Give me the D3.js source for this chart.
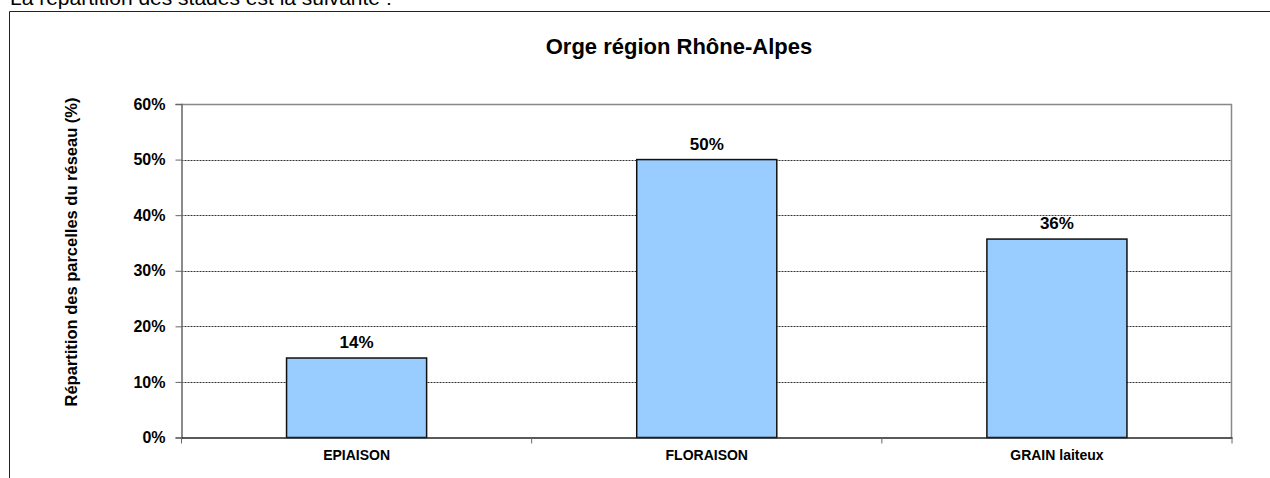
<!DOCTYPE html>
<html>
<head>
<meta charset="utf-8">
<script src="https://cdn.jsdelivr.net/npm/d3@7"></script>
<style>
  body { margin: 0; background: #fff; }
  text { font-family: Arial, "Liberation Sans", sans-serif; fill: #000; }
</style>
</head>
<body>
<div id="chart"></div>
<script>
// data
const stades = ["EPIAISON", "FLORAISON", "GRAIN laiteux"];
const parts = [14.3, 50, 35.7];
const labels = ["14%", "50%", "36%"];
const yTicks = [0, 10, 20, 30, 40, 50, 60];

const W = 1270, H = 478;
const margin = { top: 104, right: 38, bottom: 40.5, left: 181.5 };
const width = W - margin.left - margin.right;
const height = H - margin.top - margin.bottom;

const svg = d3.select("#chart").append("svg")
  .attr("width", W)
  .attr("height", H);

// sentence above the chart (cut by the crop)
svg.append("text")
  .attr("x", 10)
  .attr("y", 5)
  .style("font-size", "21px")
  .text("La répartition des stades est la suivante :");

// outer chart frame
svg.append("path")
  .attr("d", "M9.5," + H + "V11.5H" + W)
  .attr("fill", "none")
  .attr("stroke", "#222")
  .attr("stroke-width", 1);

svg.append("text")
  .attr("x", 679)
  .attr("y", 54)
  .attr("text-anchor", "middle")
  .style("font-size", "22px")
  .style("font-weight", "bold")
  .text("Orge région Rhône-Alpes");

const g = svg.append("g")
  .attr("transform", "translate(" + margin.left + "," + margin.top + ")");

const x = d3.scaleBand()
  .domain(stades)
  .range([0, width])
  .paddingInner(0.6)
  .paddingOuter(0.3);

const y = d3.scaleLinear()
  .domain([0, 60])
  .range([height, 0]);

// dashed gridlines
g.selectAll(".grid")
  .data(yTicks.filter(d => d > 0 && d < 60))
  .enter()
  .append("line")
  .attr("x1", 0)
  .attr("x2", width)
  .attr("y1", d => Math.round(y(d)) + 0.5)
  .attr("y2", d => Math.round(y(d)) + 0.5)
  .attr("stroke", "#333")
  .attr("stroke-dasharray", "2,1");

// plot border top + right
g.append("path")
  .attr("d", "M0,0.5H" + (width - 0.5) + "V" + height)
  .attr("fill", "none")
  .attr("stroke", "#888")
  .attr("stroke-width", 1.5);

// bars
g.selectAll(".bar")
  .data(parts)
  .enter()
  .append("rect")
  .attr("x", (d, i) => x(stades[i]))
  .attr("y", d => y(d))
  .attr("width", x.bandwidth())
  .attr("height", d => height - y(d))
  .attr("fill", "#99ccff")
  .attr("stroke", "#111")
  .attr("stroke-width", 1.5);

g.selectAll(".val")
  .data(parts)
  .enter()
  .append("text")
  .attr("x", (d, i) => x(stades[i]) + x.bandwidth() / 2)
  .attr("y", d => y(d) - 10)
  .attr("text-anchor", "middle")
  .style("font-size", "17px")
  .style("font-weight", "bold")
  .text((d, i) => labels[i]);

// y axis
const yAxis = g.append("g")
  .call(d3.axisLeft(y).tickValues(yTicks).tickSize(6).tickPadding(10).tickFormat(d => d + "%"));
yAxis.select(".domain").attr("stroke", "#666").attr("stroke-width", 1.5);
yAxis.selectAll(".tick line").attr("stroke", "#666");
yAxis.selectAll("text")
  .style("font-size", "16px")
  .style("font-weight", "bold")
  .attr("fill", "#111");

// x axis, ticks at category boundaries
const xAxisG = g.append("g")
  .attr("transform", "translate(0," + height + ")")
  .call(d3.axisBottom(x).tickSize(0).tickPadding(13));
xAxisG.select(".domain").attr("stroke", "#222").attr("stroke-width", 1.5);
xAxisG.selectAll("text")
  .style("font-size", "14px")
  .style("font-weight", "bold")
  .attr("fill", "#111");
const step = x.step();
const bounds = d3.range(stades.length + 1).map(i => x(stades[0]) - x.paddingOuter() * step + i * step);
xAxisG.selectAll(".btick")
  .data(bounds)
  .enter()
  .append("line")
  .attr("x1", d => d)
  .attr("x2", d => d)
  .attr("y1", 0)
  .attr("y2", 6)
  .attr("stroke", "#666");

// y axis title
svg.append("text")
  .attr("transform", "translate(77,252) rotate(-90)")
  .attr("text-anchor", "middle")
  .style("font-size", "16.5px")
  .style("font-weight", "bold")
  .text("Répartition des parcelles du réseau (%)");
</script>
</body>
</html>
